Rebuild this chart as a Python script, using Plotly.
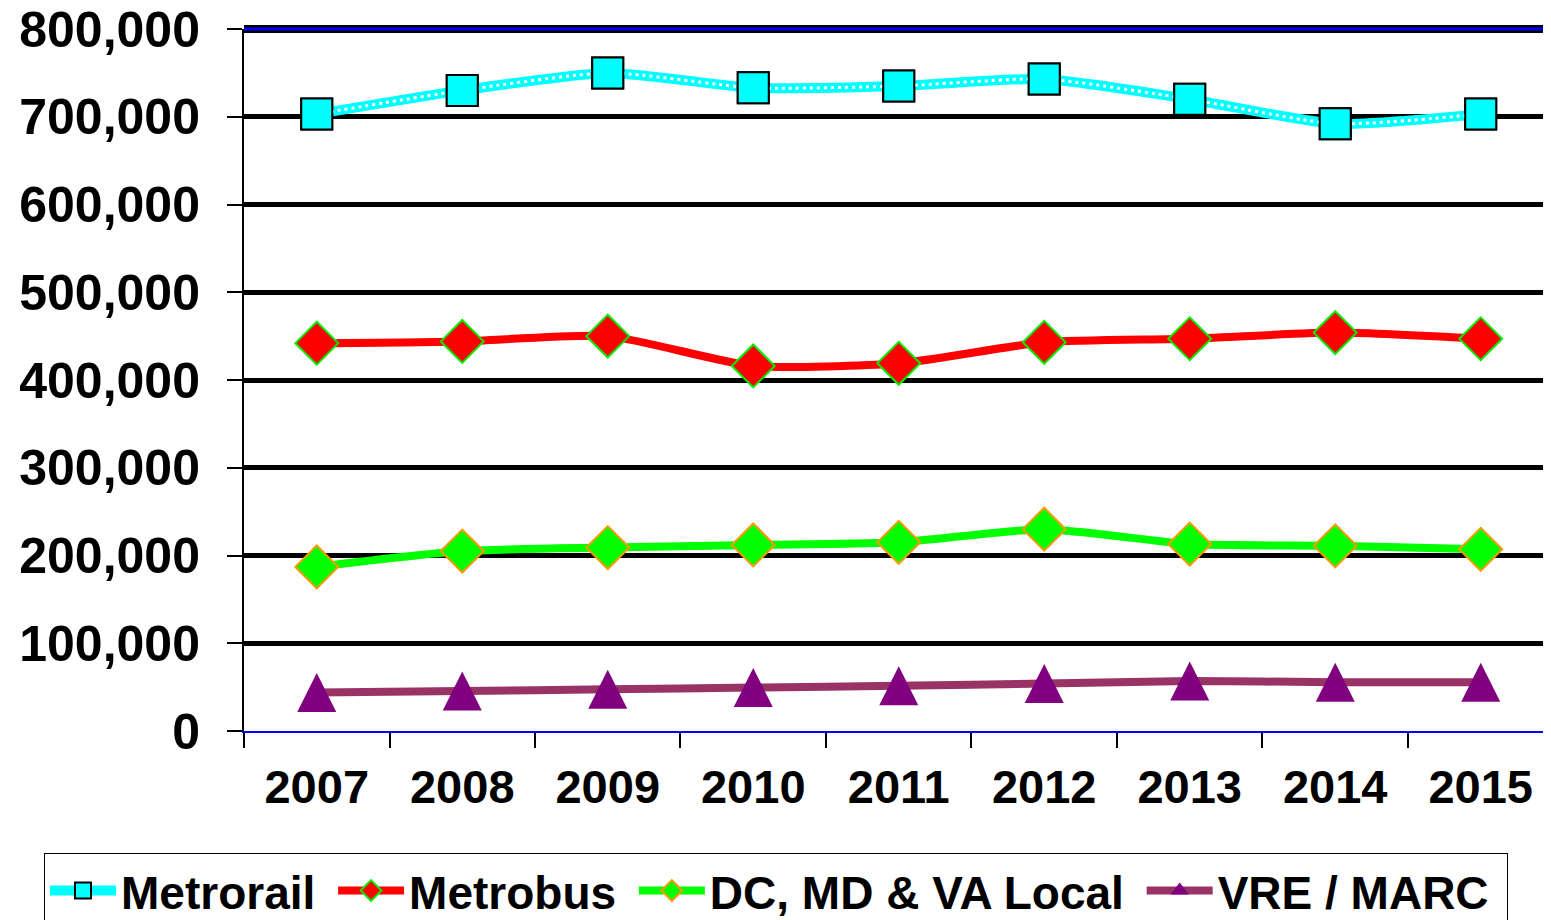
import plotly.graph_objects as go

years = ["2007", "2008", "2009", "2010", "2011", "2012", "2013", "2014", "2015"]
metrorail = [703000, 730000, 750000, 733000, 735000, 743000, 720000, 692000, 703000]
metrobus = [442000, 444000, 450000, 416000, 419000, 443000, 447000, 454000, 447000]
local = [187000, 205000, 209000, 212000, 215000, 230000, 213000, 211000, 207000]
vre_marc = [44000, 45500, 47500, 49500, 51500, 54000, 57000, 55500, 55500]
y_ticks = [0, 100000, 200000, 300000, 400000, 500000, 600000, 700000, 800000]

FONT = "Liberation Sans, Arial, sans-serif"
YMAX = 800000
PLOT_H = 702
TRI_SIZE = 39
tri_shift = (TRI_SIZE / 2) * YMAX / PLOT_H
NB = "\u00a0"

fig = go.Figure()

# Metrorail
fig.add_trace(go.Scatter(x=years, y=metrorail, name="Metrorail" + NB, mode="lines+markers",
                         line=dict(color="#00FFFF", width=10, shape="spline", smoothing=0.6),
                         marker=dict(symbol="square", size=31, color="#00FFFF",
                                     line=dict(color="black", width=2))))
fig.add_trace(go.Scatter(x=years, y=metrorail, mode="lines", showlegend=False, hoverinfo="skip",
                         line=dict(color="white", width=3, dash="3px,4px", shape="spline", smoothing=0.6)))
fig.add_trace(go.Scatter(x=years, y=metrorail, mode="markers", showlegend=False,
                         marker=dict(symbol="square", size=31, color="#00FFFF",
                                     line=dict(color="black", width=2))))
# Metrobus
fig.add_trace(go.Scatter(x=years, y=metrobus, name="Metrobus" + NB, mode="lines+markers",
                         line=dict(color="#FF0000", width=8, shape="spline", smoothing=0.6),
                         marker=dict(symbol="diamond", size=33, color="#FF0000",
                                     line=dict(color="#00EE00", width=2))))
# Local
fig.add_trace(go.Scatter(x=years, y=local, name="DC, MD & VA Local" + NB, mode="lines+markers",
                         line=dict(color="#00FF00", width=8, shape="spline", smoothing=0.6),
                         marker=dict(symbol="diamond", size=33, color="#00FF00",
                                     line=dict(color="#FF9900", width=2))))
# VRE / MARC
fig.add_trace(go.Scatter(x=years, y=vre_marc, mode="lines", showlegend=False,
                         line=dict(color="#993366", width=8, shape="spline", smoothing=0.6)))
fig.add_trace(go.Scatter(x=years, y=vre_marc, mode="markers", showlegend=False, yaxis="y2",
                         marker=dict(symbol="arrow-up", size=TRI_SIZE, color="#800080",
                                     line=dict(width=0))))
fig.add_trace(go.Scatter(x=[None], y=[None], name="VRE / MARC" + NB, mode="lines+markers",
                         line=dict(color="#993366", width=8),
                         marker=dict(symbol="triangle-up", size=30, color="#800080",
                                     line=dict(width=0))))

fig.update_layout(
    width=1543, height=912,
    margin=dict(l=236, r=0, t=21, b=189, autoexpand=False),
    paper_bgcolor="white", plot_bgcolor="white",
    font=dict(family=FONT, color="black", weight="bold"),
    showlegend=True,
    legend=dict(orientation="h", x=-0.153, y=-0.174, xanchor="left", yanchor="top",
                bordercolor="black", borderwidth=1, bgcolor="white",
                font=dict(family=FONT, size=46, color="black", weight="bold"),
                itemwidth=66, tracegroupgap=0),
    xaxis=dict(type="category", range=[-0.5, 8.483], tickson="boundaries",
               ticks="outside", ticklen=15, tickwidth=1.5, tickcolor="black",
               showline=True, linecolor="blue", linewidth=2,
               showgrid=False, zeroline=False, automargin=False,
               tickfont=dict(family=FONT, size=47, color="black", weight="bold"),
               ticklabelstandoff=14),
    yaxis=dict(range=[0, YMAX], tickvals=y_ticks, tickformat=",d",
               ticks="outside", ticklen=15, tickwidth=2, tickcolor="black",
               showline=True, linecolor="black", linewidth=2,
               showgrid=True, gridcolor="black", gridwidth=5,
               zeroline=True, zerolinecolor="blue", zerolinewidth=2,
               automargin=False, ticklabeloverflow="allow",
               tickfont=dict(family=FONT, size=50, color="black", weight="bold"),
               ticklabelstandoff=17),
    yaxis2=dict(overlaying="y", range=[-tri_shift, YMAX - tri_shift], visible=False,
                automargin=False),
    shapes=[
        dict(type="line", xref="paper", yref="paper", x0=0, x1=1, y0=1, y1=1,
             line=dict(color="black", width=8), layer="above"),
        dict(type="line", xref="paper", yref="paper", x0=0, x1=1, y0=1, y1=1,
             line=dict(color="blue", width=3), layer="above"),
    ],
)

fig.write_html("out.html")
